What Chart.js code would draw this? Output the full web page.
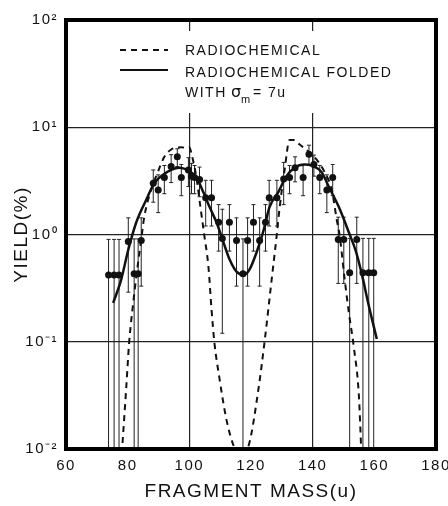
<!DOCTYPE html>
<html>
<head>
<meta charset="utf-8">
<script src="https://cdn.jsdelivr.net/npm/chart.js@4/dist/chart.umd.min.js"></script>
<style>
  body { margin: 0; background: #fff; }
</style>
</head>
<body>
<canvas id="yield-chart" width="448" height="506"></canvas>
<script>
// measured points (mass in u, yield in %, error in %)
const pointMass = [73.8, 75.6, 77.2, 80.2, 82.1, 83.4, 84.4, 88.3, 89.9, 91.9, 94.1, 96.1, 97.4, 99.7, 100.7, 101.7, 103.3, 105.3, 107.2, 109.5, 110.7, 113.0, 115.3, 117.4, 118.9, 120.8, 122.8, 124.7, 125.9, 128.4, 130.6, 132.5, 134.3, 136.9, 138.8, 140.4, 142.3, 144.6, 146.5, 148.3, 150.1, 152.0, 154.3, 156.3, 158.2, 159.8];
const pointYield = [0.42, 0.42, 0.42, 0.86, 0.43, 0.43, 0.88, 3.0, 2.6, 3.4, 4.3, 5.3, 3.4, 4.0, 3.5, 3.4, 3.25, 2.2, 2.2, 1.3, 0.92, 1.3, 0.88, 0.43, 0.88, 1.3, 0.88, 1.3, 2.2, 2.2, 3.3, 3.4, 4.2, 3.4, 5.6, 4.5, 3.4, 2.6, 3.4, 0.9, 0.9, 0.44, 0.9, 0.44, 0.44, 0.44];
const pointErr = [0.48, 0.48, 0.48, 0.57, 0.48, 0.48, 0.55, 1.0, 1.0, 1.0, 1.25, 1.0, 1.1, 1.2, 1.1, 1.0, 1.0, 1.0, 1.0, 0.6, 0.8, 0.6, 0.55, 0.48, 0.55, 0.6, 0.55, 0.6, 1.0, 1.0, 1.4, 1.0, 1.1, 1.1, 1.2, 1.0, 1.0, 1.0, 1.1, 0.55, 0.55, 0.48, 0.55, 0.48, 0.48, 0.48];

// radiochemical folded with sigma_m = 7u (solid)
const foldedMass = [75.3, 77.9, 80.2, 82.8, 86.0, 88.6, 91.5, 94.1, 96.7, 100.0, 102.3, 104.6, 106.5, 108.8, 111.1, 113.0, 115.3, 117.6, 119.5, 121.8, 124.1, 126.0, 128.9, 131.5, 134.1, 137.4, 139.7, 142.9, 145.2, 148.5, 152.0, 154.0, 156.0, 158.0, 160.8];
const foldedYield = [0.23, 0.38, 0.72, 1.3, 2.1, 3.0, 3.6, 4.0, 4.2, 3.9, 3.4, 2.46, 1.82, 1.3, 0.84, 0.59, 0.45, 0.42, 0.47, 0.68, 1.1, 1.8, 2.5, 3.5, 4.2, 4.5, 4.4, 3.8, 2.8, 1.8, 1.0, 0.7, 0.42, 0.23, 0.106];

// radiochemical (dashed)
const radioMass = [78.1, 79.5, 80.5, 81.8, 83.0, 84.4, 85.4, 87.6, 89.9, 91.9, 94.1, 97.4, 99.3, 100.0, 100.8, 102.3, 103.6, 104.9, 106.2, 107.2, 108.1, 109.8, 112.0, 114.5, 117.0, 119.5, 122.4, 124.4, 126.7, 128.3, 129.3, 130.9, 132.5, 133.8, 135.8, 138.7, 141.3, 143.9, 146.2, 147.8, 148.8, 150.3, 151.7, 153.3, 155.0, 155.8];
const radioYield = [0.009, 0.036, 0.1, 0.23, 0.45, 0.9, 1.47, 2.6, 3.9, 5.3, 6.2, 6.5, 6.4, 6.5, 5.5, 3.4, 1.8, 0.96, 0.5, 0.2, 0.1, 0.045, 0.019, 0.0105, 0.0085, 0.0115, 0.036, 0.1, 0.38, 0.96, 1.8, 4.0, 7.6, 7.6, 6.9, 5.9, 5.0, 3.8, 2.6, 1.38, 0.96, 0.4, 0.19, 0.091, 0.031, 0.009];

const massTicks = [60, 80, 100, 120, 140, 160, 180];
const gridMasses = [100, 140];
const yieldTicks = [0.01, 0.1, 1, 10, 100];
const yieldTickLabels = ['10⁻²', '10⁻¹', '10⁰', '10¹', '10²'];
const legendLabels = ['RADIOCHEMICAL', 'RADIOCHEMICAL FOLDED', 'WITH'];

Chart.defaults.font.family = "'Liberation Sans', Arial, sans-serif";
Chart.defaults.color = '#111';

const toXY = (xs, ys) => xs.map((x, i) => ({x: x, y: ys[i]}));

const spacing = {
  id: 'spacing',
  beforeUpdate(chart) { chart.ctx.letterSpacing = '1.5px'; },
  beforeDraw(chart) { chart.ctx.letterSpacing = '1.5px'; }
};

const errorBars = {
  id: 'errorBars',
  beforeDatasetsDraw(chart) {
    const {ctx, chartArea, scales: {y}} = chart;
    const meta = chart.getDatasetMeta(0);
    ctx.save();
    ctx.beginPath();
    ctx.rect(chartArea.left, chartArea.top, chartArea.width, chartArea.height);
    ctx.clip();
    ctx.strokeStyle = '#222';
    ctx.lineWidth = 1;
    meta.data.forEach((pt, i) => {
      const hi = pointYield[i] + pointErr[i];
      const lo = pointYield[i] - pointErr[i];
      const yHi = y.getPixelForValue(hi);
      const yLo = lo > 0.01 ? y.getPixelForValue(lo) : chartArea.bottom;
      ctx.beginPath();
      ctx.moveTo(pt.x, yHi);
      ctx.lineTo(pt.x, yLo);
      ctx.moveTo(pt.x - 2, yHi);
      ctx.lineTo(pt.x + 2, yHi);
      if (lo > 0.01) {
        ctx.moveTo(pt.x - 2, yLo);
        ctx.lineTo(pt.x + 2, yLo);
      }
      ctx.stroke();
    });
    ctx.restore();
  }
};

const legendBox = {
  id: 'legendBox',
  afterDatasetsDraw(chart) {
    const ctx = chart.ctx;
    ctx.save();
    ctx.fillStyle = '#fff';
    ctx.fillRect(112, 31, 290, 82);
    ctx.strokeStyle = '#111';
    ctx.lineWidth = 2;
    ctx.setLineDash([6, 5]);
    ctx.beginPath(); ctx.moveTo(120, 50); ctx.lineTo(168, 50); ctx.stroke();
    ctx.setLineDash([]);
    ctx.beginPath(); ctx.moveTo(120, 70); ctx.lineTo(168, 70); ctx.stroke();
    ctx.fillStyle = '#111';
    ctx.letterSpacing = '1.5px';
    ctx.textBaseline = 'alphabetic';
    ctx.font = "14px 'Liberation Sans', Arial, sans-serif";
    ctx.fillText(legendLabels[0], 185, 55);
    ctx.fillText(legendLabels[1], 185, 77);
    ctx.fillText(legendLabels[2], 185, 97);
    ctx.font = "16px 'DejaVu Sans', sans-serif";
    ctx.fillText('σ', 231, 97);
    ctx.font = "11px 'Liberation Sans', Arial, sans-serif";
    ctx.fillText('m', 241, 103);
    ctx.font = "14px 'Liberation Sans', Arial, sans-serif";
    ctx.fillText('= 7u', 253, 97);
    ctx.restore();
  }
};

const frame = {
  id: 'frame',
  afterDraw(chart) {
    const {ctx, chartArea: a} = chart;
    ctx.save();
    ctx.strokeStyle = '#000';
    ctx.lineWidth = 4;
    ctx.strokeRect(a.left, a.top, a.right - a.left, a.bottom - a.top);
    ctx.restore();
  }
};

new Chart(document.getElementById('yield-chart'), {
  type: 'scatter',
  data: {
    datasets: [
      {
        label: 'data',
        data: toXY(pointMass, pointYield),
        pointRadius: 3.5,
        pointBackgroundColor: '#111',
        pointBorderWidth: 0,
        showLine: false
      },
      {
        label: 'RADIOCHEMICAL FOLDED WITH σm = 7u',
        data: toXY(foldedMass, foldedYield),
        showLine: true,
        borderColor: '#111',
        borderWidth: 2.5,
        pointRadius: 0,
        cubicInterpolationMode: 'monotone'
      },
      {
        label: 'RADIOCHEMICAL',
        data: toXY(radioMass, radioYield),
        showLine: true,
        borderColor: '#111',
        borderWidth: 2,
        borderDash: [6, 5],
        pointRadius: 0,
        cubicInterpolationMode: 'monotone'
      }
    ]
  },
  options: {
    responsive: false,
    devicePixelRatio: 1,
    animation: false,
    layout: { padding: { top: 20, right: 12, left: 0, bottom: 0 } },
    plugins: { legend: { display: false }, tooltip: { enabled: false } },
    scales: {
      x: {
        type: 'linear',
        min: 60,
        max: 180,
        afterBuildTicks: s => { s.ticks = massTicks.map(v => ({value: v})); },
        afterFit: s => { s.height = 57; s.paddingLeft = 0; s.paddingRight = 0; },
        grid: {
          color: c => gridMasses.includes(c.tick.value) ? '#222' : 'rgba(0,0,0,0)',
          lineWidth: 1.2,
          drawTicks: false
        },
        border: { display: false },
        ticks: { font: { size: 15 }, padding: 8, color: '#111', maxRotation: 0 },
        title: {
          display: true,
          text: 'FRAGMENT MASS(u)',
          font: { size: 19 },
          color: '#111',
          padding: { top: 0, bottom: 3 }
        }
      },
      y: {
        type: 'logarithmic',
        min: 0.01,
        max: 100,
        afterBuildTicks: s => { s.ticks = yieldTicks.map(v => ({value: v})); },
        afterFit: s => { s.width = 66; s.paddingTop = 0; s.paddingBottom = 0; },
        grid: {
          color: c => (c.tick.value > 0.01 && c.tick.value < 100) ? '#222' : 'rgba(0,0,0,0)',
          lineWidth: 1.2,
          drawTicks: false
        },
        border: { display: false },
        ticks: {
          font: { size: 15 },
          padding: 8,
          color: '#111',
          callback: (v, i) => yieldTickLabels[i]
        },
        title: {
          display: true,
          text: 'YIELD(%)',
          font: { size: 19 },
          color: '#111',
          padding: { top: 10, bottom: 0 }
        }
      }
    }
  },
  plugins: [spacing, errorBars, legendBox, frame]
});
</script>
</body>
</html>
